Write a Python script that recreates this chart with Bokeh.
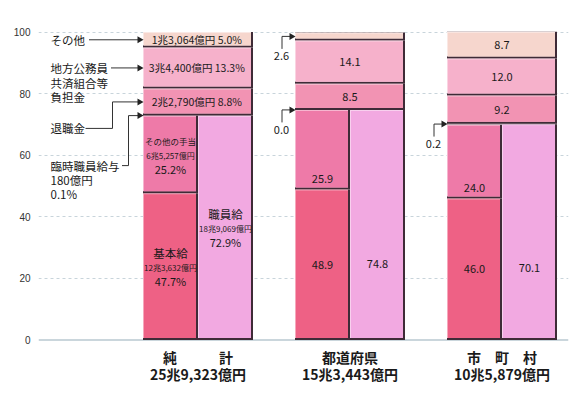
import numpy as np
from bokeh.plotting import figure
from bokeh.models import Range1d, FixedTicker, Span, Label
from bokeh.core.properties import value
from bokeh.embed import file_html
from bokeh.resources import INLINE

# ---------------- data ----------------
groups = ["純　　　計", "都道府県", "市　町　村"]
group_totals = ["25兆9,323億円", "15兆3,443億円", "10兆5,879億円"]

basic_pay = [47.7, 48.9, 46.0]      # 基本給
allowances = [25.2, 25.9, 24.0]     # その他の手当
staff_pay = [72.9, 74.8, 70.1]      # 職員給
temp_staff = [0.1, 0.0, 0.2]        # 臨時職員給与
retirement = [8.8, 8.5, 9.2]        # 退職金
mutual_aid = [13.3, 14.1, 12.0]     # 地方公務員共済組合等負担金
others = [5.0, 2.6, 8.7]            # その他

net_item_names = ["基本給", "その他の手当", "職員給"]
net_item_amounts = ["12兆3,632億円", "6兆5,257億円", "18兆9,069億円"]
net_upper_amounts = ["2兆2,790億円", "3兆4,400億円", "1兆3,064億円"]  # 退職金, 共済, その他
temp_amount = "180億円"

y_ticks = [0, 20, 40, 60, 80, 100]

# ---------------- style ----------------
C_BASIC = "#ee6185"
C_ALLOW = "#ee7aa8"
C_STAFF = "#f2a9e1"
C_TEMP = "#e86a92"
C_RETIRE = "#f293b3"
C_MUTUAL = "#f6b1cb"
C_OTHER = "#f6d6cd"
SHADOW = "#3f2b37"
JP = "Noto Sans CJK JP"
TXT = "#1a1a1a"

PX_X = 152.0     # pixels per x unit (group spacing)
PX_Y = 3.076     # pixels per percent
X0 = 197.5       # image x of first group centre
Y0 = 339.5       # image y of 0 %


def xd(img_x):
    return (img_x - X0) / PX_X


def yd(img_y):
    return (Y0 - img_y) / PX_Y


def px(n):
    return n / PX_X


def py(n):
    return n / PX_Y


W, H = 573, 393
p = figure(width=W, height=H, output_backend="svg", toolbar_location=None,
           x_range=Range1d(xd(38), xd(568)), y_range=Range1d(yd(393), yd(0)),
           x_axis_location=None, min_border=0, min_border_left=38,
           min_border_right=5, min_border_top=0, min_border_bottom=0,
           outline_line_color=None, background_fill_color="white",
           border_fill_color="white")

# axis / grid
p.yaxis.ticker = FixedTicker(ticks=y_ticks)
p.yaxis.axis_line_color = None
p.yaxis.major_tick_line_color = None
p.yaxis.minor_tick_line_color = None
p.yaxis.major_tick_in = 0
p.yaxis.major_tick_out = 0
p.yaxis.major_label_standoff = 8
p.yaxis.major_label_text_font = "Liberation Sans"
p.yaxis.major_label_text_font_size = "10px"
p.yaxis.major_label_text_color = "#333333"
p.yaxis.major_label_text_baseline = "top"
p.ygrid.ticker = FixedTicker(ticks=y_ticks[1:])
p.ygrid.grid_line_color = "#c8d4db"
p.ygrid.grid_line_dash = "3 3"
p.ygrid.grid_line_width = 1
p.xgrid.visible = False
p.add_layout(Span(location=0, dimension="width", line_color="#b9c9d1",
                  line_width=1.5, level="underlay"))
p.add_layout(Label(x=xd(20.5), y=yd(46), text="(%)", text_font="Liberation Sans",
                   text_font_size="8px", text_align="center", text_baseline="middle",
                   text_color="#333333"))

# ---------------- bars ----------------
hw = px(55)
segs = []
for i in range(len(groups)):
    c = i
    L, R = c - hw, c + hw
    segs.append((L, c, 0.0, basic_pay[i], C_BASIC))
    segs.append((L, c, basic_pay[i], basic_pay[i] + allowances[i], C_ALLOW))
    segs.append((c, R, 0.0, staff_pay[i], C_STAFF))
    b = staff_pay[i]
    for v, col in zip([temp_staff[i], retirement[i], mutual_aid[i], others[i]],
                      [C_TEMP, C_RETIRE, C_MUTUAL, C_OTHER]):
        segs.append((L, R, b, b + v, col))
        b += v


def lighten(hexc, f):
    r, g, bb = int(hexc[1:3], 16), int(hexc[3:5], 16), int(hexc[5:7], 16)
    r, g, bb = [int(round(v + (255 - v) * f)) for v in (r, g, bb)]
    return "#%02x%02x%02x" % (r, g, bb)


sl, sr, sb, st = [], [], [], []
hl, hr, hb, ht, hc = [], [], [], [], []
ml, mr, mb, mt, mc = [], [], [], [], []
for (l, r, b, t, col) in segs:
    if t - b <= 0:
        continue
    sl.append(l); sr.append(r); sb.append(b); st.append(t)
    if (t - b) * PX_Y < 3.5:
        continue
    hl.append(l); hr.append(r - px(2)); hb.append(b + py(2)); ht.append(t); hc.append(lighten(col, 0.45))
    ml.append(l + px(1)); mr.append(r - px(2)); mb.append(b + py(2)); mt.append(t - py(1)); mc.append(col)

p.quad(left=sl, right=sr, bottom=sb, top=st, fill_color=SHADOW, line_color=None)
p.quad(left=hl, right=hr, bottom=hb, top=ht, fill_color=hc, line_color=None)
p.quad(left=ml, right=mr, bottom=mb, top=mt, fill_color=mc, line_color=None)


# ---------------- texts ----------------
def add_text(xs, ys, texts, size, yoff=0, align="center", bold=False,
             font=JP, color=TXT):
    kw = dict(text_font=value(font), text_font_size=size, text_align=align,
              text_baseline="middle", text_color=color, y_offset=yoff)
    if bold:
        kw["text_font_style"] = "bold"
    p.text(x=xs, y=ys, text=texts, **kw)


# group 1 (純計) detailed labels
c0 = 0
lx = [c0 - hw / 2, c0 - hw / 2, c0 + hw / 2]
ly = [basic_pay[0] / 2, basic_pay[0] + allowances[0] / 2, staff_pay[0] / 2]
lp = ["%.1f%%" % v for v in (basic_pay[0], allowances[0], staff_pay[0])]
add_text([lx[0], lx[2]], [ly[0], ly[2]], [net_item_names[0], net_item_names[2]], "11.5px", yoff=-14)
add_text([lx[1]], [ly[1]], [net_item_names[1]], "8.5px", yoff=-14)
add_text(lx, ly, net_item_amounts, "8px", yoff=1)
add_text(lx, ly, lp, "11px", yoff=14)

b0 = staff_pay[0] + temp_staff[0]
ux, uy, ut = [], [], []
for v, amt in zip([retirement[0], mutual_aid[0], others[0]], net_upper_amounts):
    ux.append(c0); uy.append(b0 + v / 2); ut.append("%s  %.1f%%" % (amt, v))
    b0 += v
add_text(ux, uy, ut, "10.5px")

# groups 2, 3 labels
vx, vy, vt, voff = [], [], [], []
for i in (1, 2):
    vx += [i - hw / 2, i - hw / 2, i + hw / 2]
    vy += [basic_pay[i] / 2, basic_pay[i], basic_pay[i] / 2]
    vt += ["%.1f" % basic_pay[i], "%.1f" % allowances[i], "%.1f" % staff_pay[i]]
    voff += [0, -11, -1]
    b = staff_pay[i] + temp_staff[i]
    for v in (retirement[i], mutual_aid[i], others[i]):
        if v >= 3:
            vx.append(i); vy.append(b + v / 2); vt.append("%.1f" % v); voff.append(0)
        b += v
add_text(vx, vy, vt, "11px", yoff=voff)

# bottom category labels
gx = list(range(len(groups)))
add_text(gx, [0] * 3, groups, "14px", yoff=16.5, bold=True)
add_text(gx, [0] * 3, group_totals, "14px", yoff=33.5, bold=True)

# ---------------- left-hand callouts (純計) ----------------
gl = 0 - hw
y_other = staff_pay[0] + temp_staff[0] + retirement[0] + mutual_aid[0] + others[0] / 2
y_mut = staff_pay[0] + temp_staff[0] + retirement[0] + mutual_aid[0] / 2
y_ret = staff_pay[0] + temp_staff[0] + retirement[0] / 2
y_tmp = staff_pay[0] + temp_staff[0] / 2
tx = gl - px(92.5)

add_text([tx], [y_other], ["その他"], "11.5px", align="left")
add_text([tx] * 3, [y_mut] * 3, ["地方公務員", "共済組合等", "負担金"], "11.5px",
         yoff=[0, 15, 29], align="left")
add_text([tx], [y_ret - py(26.5)], ["退職金"], "11.5px", align="left")
add_text([tx] * 3, [y_tmp - py(50)] * 3, ["臨時職員給与", temp_amount, "%.1f%%" % temp_staff[0]],
         "11.5px", yoff=[0, 14, 28], align="left")

lxs = [
    [gl - px(54), gl - px(5)],
    [gl - px(32), gl - px(5)],
    [gl - px(57.5), gl - px(30.5), gl - px(30.5), gl - px(5)],
    [gl - px(21), gl - px(14.5), gl - px(14.5), gl - px(5)],
]
lys = [
    [y_other, y_other],
    [y_mut, y_mut],
    [y_ret - py(26.5), y_ret - py(26.5), y_ret, y_ret],
    [y_tmp - py(50), y_tmp - py(50), y_tmp, y_tmp],
]
heads_x = [gl - px(3.5)] * 4
heads_y = [y_other, y_mut, y_ret, y_tmp]

# groups 2 and 3 outside labels for thin segments
small_x, small_y, small_t = [], [], []
for i in (1, 2):
    bl = i - hw
    top_other = staff_pay[i] + temp_staff[i] + retirement[i] + mutual_aid[i] + others[i]
    items = [(temp_staff[i], staff_pay[i] + temp_staff[i] / 2)]
    if others[i] < 3:
        items.append((others[i], top_other - others[i] / 2))
    for v, yt in items:
        small_x.append(bl - px(13.5)); small_y.append(yt - py(20)); small_t.append("%.1f" % v)
        lxs.append([bl - px(13), bl - px(13), bl - px(5)])
        lys.append([yt - py(12.5), yt, yt])
        heads_x.append(bl - px(3.5)); heads_y.append(yt)
add_text(small_x, small_y, small_t, "11px")

p.multi_line(xs=lxs, ys=lys, line_color="#333333", line_width=1)
p.scatter(x=heads_x, y=heads_y, marker="triangle", size=7, angle=-np.pi / 2,
          fill_color="#222222", line_color=None)

open("out.html", "w").write(file_html(p, INLINE))
